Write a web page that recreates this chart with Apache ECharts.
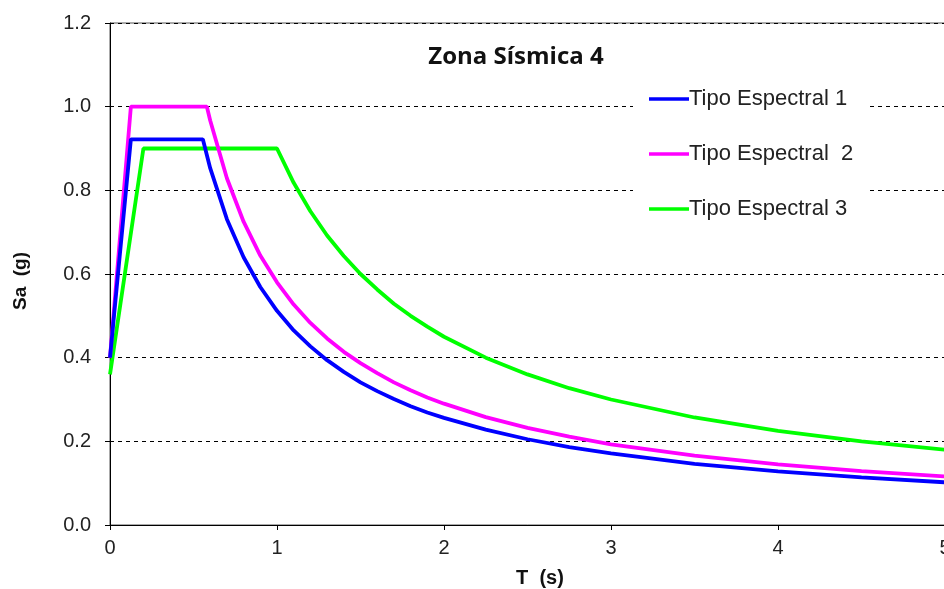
<!DOCTYPE html>
<html><head><meta charset="utf-8">
<script src="https://cdn.jsdelivr.net/npm/echarts@6/dist/echarts.min.js"></script>
<style>html,body{margin:0;padding:0;background:#fff}#c{width:944px;height:589px}</style>
</head><body><div id="c"></div>
<script>
// Periods T (s)
const T1 = [0, 0.125, 0.556, 0.6, 0.7, 0.8, 0.9, 1.0, 1.1, 1.2, 1.3, 1.4, 1.5, 1.6, 1.7, 1.8, 1.9, 2.0, 2.25, 2.5, 2.75, 3.0, 3.5, 4.0, 4.5, 5.0];
const Sa1 = [0.40, 0.922, 0.922, 0.853, 0.731, 0.640, 0.569, 0.512, 0.465, 0.427, 0.394, 0.366, 0.341, 0.320, 0.301, 0.284, 0.269, 0.256, 0.228, 0.205, 0.186, 0.171, 0.146, 0.128, 0.114, 0.102];
const T2 = [0, 0.125, 0.58, 0.6, 0.7, 0.8, 0.9, 1.0, 1.1, 1.2, 1.3, 1.4, 1.5, 1.6, 1.7, 1.8, 1.9, 2.0, 2.25, 2.5, 2.75, 3.0, 3.5, 4.0, 4.5, 5.0];
const Sa2 = [0.40, 1.0, 1.0, 0.967, 0.829, 0.725, 0.644, 0.580, 0.527, 0.483, 0.446, 0.414, 0.387, 0.363, 0.341, 0.322, 0.305, 0.290, 0.258, 0.232, 0.211, 0.193, 0.166, 0.145, 0.129, 0.116];
const T3 = [0, 0.2, 1.0, 1.1, 1.2, 1.3, 1.4, 1.5, 1.6, 1.7, 1.8, 1.9, 2.0, 2.25, 2.5, 2.75, 3.0, 3.5, 4.0, 4.5, 5.0];
const Sa3 = [0.36, 0.90, 0.90, 0.818, 0.750, 0.692, 0.643, 0.600, 0.563, 0.529, 0.500, 0.474, 0.450, 0.400, 0.360, 0.327, 0.300, 0.257, 0.225, 0.200, 0.180];
const names = ['Tipo Espectral 1', 'Tipo Espectral  2', 'Tipo Espectral 3'];
const colors = ['#0000FF', '#FF00FF', '#00FF00'];
const titleText = 'Zona Sísmica 4';
const xName = 'T  (s)';
const yName = 'Sa  (g)';

const zip = (a, b) => a.map((v, i) => [v, b[i]]);
const sets = [zip(T1, Sa1), zip(T2, Sa2), zip(T3, Sa3)];

const chart = echarts.init(document.getElementById('c'), null, {renderer: 'canvas'});
const font = 'Liberation Sans, Arial, sans-serif';
chart.setOption({
  animation: false,
  backgroundColor: '#fff',
  grid: {left: 110, top: 23, width: 835, bottom: 64, containLabel: false, outerBoundsMode: 'none',
    show: true, borderColor: '#555', borderWidth: 1, backgroundColor: 'transparent'},
  title: {text: titleText, left: 511, top: 40, textAlign: 'center',
    textStyle: {fontFamily: 'Open Sans, sans-serif', fontWeight: 'bold', fontSize: 24, color: '#111'}},
  legend: {orient: 'vertical', left: 633, top: 83, itemWidth: 40, itemHeight: 14, itemGap: 33,
    padding: [5, 16, 18, 16], backgroundColor: '#fff',
    textStyle: {fontFamily: font, fontSize: 22, color: '#222', padding: [0, 0, 0, -5]},
    data: names.map((n, i) => ({name: n, icon: 'path://M0,5.5 L40,5.5 L40,9 L0,9 Z', itemStyle: {color: colors[i]}}))},
  xAxis: {type: 'value', min: 0, max: 5, interval: 1,
    axisLine: {show: true, lineStyle: {color: '#000', width: 1}},
    axisTick: {show: true, length: 5, lineStyle: {color: '#000'}},
    axisLabel: {fontFamily: font, fontSize: 20, color: '#222', margin: 13},
    splitLine: {show: false}},
  yAxis: {type: 'value', min: 0, max: 1.2, interval: 0.2,
    axisLine: {show: true, lineStyle: {color: '#000', width: 1}},
    axisTick: {show: true, length: 5, lineStyle: {color: '#000'}},
    axisLabel: {fontFamily: font, fontSize: 20, color: '#222', margin: 19, formatter: v => v.toFixed(1)},
    splitLine: {show: true, lineStyle: {color: '#000', type: [4, 4], width: 1}}},
  graphic: [
    {type: 'text', x: 540, y: 578, style: {text: xName, font: 'bold 20px Liberation Sans, Arial, sans-serif', fill: '#111', align: 'center', verticalAlign: 'middle'}},
    {type: 'text', x: 21, y: 281, rotation: Math.PI / 2, style: {text: yName, font: 'bold 19px Liberation Sans, Arial, sans-serif', fill: '#111', align: 'center', verticalAlign: 'middle'}}
  ],
  series: sets.map((d, i) => ({
    type: 'line', name: names[i], data: d, symbol: 'none', smooth: false, z: 3 - i + 2,
    lineStyle: {color: colors[i], width: 3.8}, itemStyle: {color: colors[i]}
  }))
});
</script></body></html>
